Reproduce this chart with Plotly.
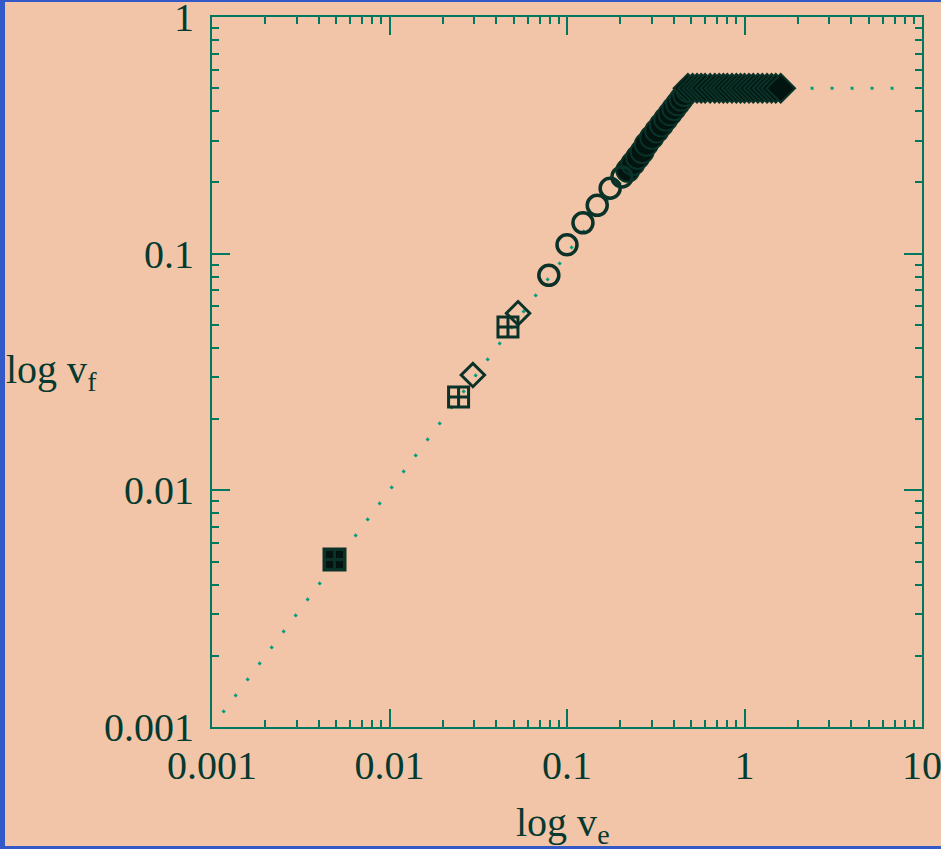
import plotly.graph_objects as go

# ---- data ----
line_x = [0.00115, 0.5, 7.0]
line_y = [0.00115, 0.5, 0.5]

cluster_x = [0.0049]
cluster_y = [0.0051]

sqcross_x = [0.0049, 0.0245, 0.0465]
sqcross_y = [0.0051, 0.0248, 0.049]

diamond_x = [0.0295, 0.053]
diamond_y = [0.0307, 0.056]

circle_x = [0.079, 0.100, 0.123, 0.148, 0.175, 0.204]
circle_y = [0.081, 0.109, 0.135, 0.160, 0.189, 0.211]

dense_x = [0.22, 0.235, 0.25, 0.265, 0.28, 0.30, 0.32, 0.34, 0.36, 0.38, 0.40, 0.42, 0.44, 0.46, 0.48]
dense_y = [0.225, 0.24, 0.255, 0.27, 0.29, 0.31, 0.33, 0.35, 0.37, 0.39, 0.41, 0.43, 0.45, 0.47, 0.49]

band_x = [0.48, 0.51, 0.54, 0.57, 0.60, 0.64, 0.68, 0.72, 0.76, 0.80, 0.85, 0.90, 0.95,
          1.0, 1.06, 1.12, 1.19, 1.26, 1.34, 1.42, 1.50, 1.60]
band_y = [0.5] * len(band_x)

x_ticks = [0.001, 0.01, 0.1, 1, 10]
x_ticktext = ["0.001", "0.01", "0.1", "1", "10"]
y_ticks = [0.001, 0.01, 0.1, 1]
y_ticktext = ["0.001", "0.01", "0.1", "1"]

x_title = "log v<sub>e</sub>"
y_title = "log v<sub>f</sub>"

# ---- style ----
BG = "#F3C5A8"
AXIS = "#00785f"
LINE = "#00a07f"
MK = "#0a3228"
TXT = "#063a30"
BLUE = "#3358c8"
FONT = "Liberation Serif"

W, H = 941, 849
L, R, T, B = 212, 19, 17, 122
PW, PH = W - L - R, H - T - B


def px_x(p):
    return (p - L) / PW


def px_y(p):
    return (H - B - p) / PH


minor_x = [k * 10.0 ** e for e in range(-3, 1) for k in range(2, 10)]
minor_y = [k * 10.0 ** e for e in range(-3, 0) for k in range(2, 10)]

fig = go.Figure()

fig.add_trace(go.Scatter(x=line_x, y=line_y, mode="lines",
                         line=dict(color=LINE, width=3, dash="3px,17px"),
                         hoverinfo="skip", showlegend=False))

fig.add_trace(go.Scatter(x=cluster_x, y=cluster_y, mode="markers",
                         marker=dict(symbol="square", size=22, color="#02140f",
                                     line=dict(color=MK, width=2)),
                         showlegend=False))
fig.add_trace(go.Scatter(x=dense_x, y=dense_y, mode="markers",
                         marker=dict(symbol="circle", size=23, color="#02140f",
                                     line=dict(color=MK, width=2)),
                         showlegend=False))
fig.add_trace(go.Scatter(x=band_x, y=band_y, mode="markers",
                         marker=dict(symbol="diamond", size=22, color="#02140f",
                                     line=dict(color=MK, width=2)),
                         showlegend=False))
fig.add_trace(go.Scatter(x=circle_x, y=circle_y, mode="markers",
                         marker=dict(symbol="circle-open", size=20, color=MK,
                                     line=dict(color=MK, width=3.5)),
                         showlegend=False))
fig.add_trace(go.Scatter(x=sqcross_x, y=sqcross_y, mode="markers",
                         marker=dict(symbol="square-cross-open", size=20, color=MK,
                                     line=dict(color=MK, width=3)),
                         showlegend=False))
fig.add_trace(go.Scatter(x=diamond_x, y=diamond_y, mode="markers",
                         marker=dict(symbol="diamond-open", size=18, color=MK,
                                     line=dict(color=MK, width=3)),
                         showlegend=False))

axis_common = dict(
    type="log", showline=True, linecolor=AXIS, linewidth=2, mirror="allticks",
    ticks="inside", ticklen=18, tickwidth=2, tickcolor=AXIS,
    showgrid=False, zeroline=False, ticklabeloverflow="allow", automargin=False,
    tickfont=dict(family=FONT, size=40, color=TXT),
)

fig.update_xaxes(range=[-3, 1], tickmode="array", tickvals=x_ticks, ticktext=x_ticktext,
                 ticklabelstandoff=2,
                 minor=dict(ticks="inside", ticklen=7, tickwidth=2, tickcolor=AXIS,
                            tickmode="array", tickvals=minor_x, showgrid=False),
                 **axis_common)
fig.update_yaxes(range=[-3, 0], tickmode="array", tickvals=y_ticks, ticktext=y_ticktext,
                 ticklabelstandoff=8,
                 minor=dict(ticks="inside", ticklen=7, tickwidth=2, tickcolor=AXIS,
                            tickmode="array", tickvals=minor_y, showgrid=False),
                 **axis_common)

fig.add_annotation(text=x_title, xref="paper", yref="paper",
                   x=px_x(563), y=px_y(825), xanchor="center", yanchor="middle",
                   showarrow=False, font=dict(family=FONT, size=40, color=TXT))
fig.add_annotation(text=y_title, xref="paper", yref="paper",
                   x=px_x(4), y=px_y(372), xanchor="left", yanchor="middle",
                   showarrow=False, font=dict(family=FONT, size=40, color=TXT))

# blue border strips (left, top, bottom)
for (x0, x1, y0, y1) in [(0, 5, 0, H), (0, W, 0, 2), (0, W, H - 3, H)]:
    fig.add_shape(type="rect", xref="paper", yref="paper",
                  x0=px_x(x0), x1=px_x(x1), y0=px_y(y1), y1=px_y(y0),
                  fillcolor=BLUE, line=dict(width=0), layer="above")

fig.update_layout(
    width=W, height=H, autosize=False,
    margin=dict(l=L, r=R, t=T, b=B, pad=0, autoexpand=False),
    paper_bgcolor=BG, plot_bgcolor=BG,
    showlegend=False,
    font=dict(family=FONT, color=TXT),
)

fig.write_html("out.html",
               config={"displayModeBar": False},
               post_script="document.body.style.margin='0';"
                           "document.body.style.overflow='hidden';"
                           "document.body.style.background='" + BG + "';")
